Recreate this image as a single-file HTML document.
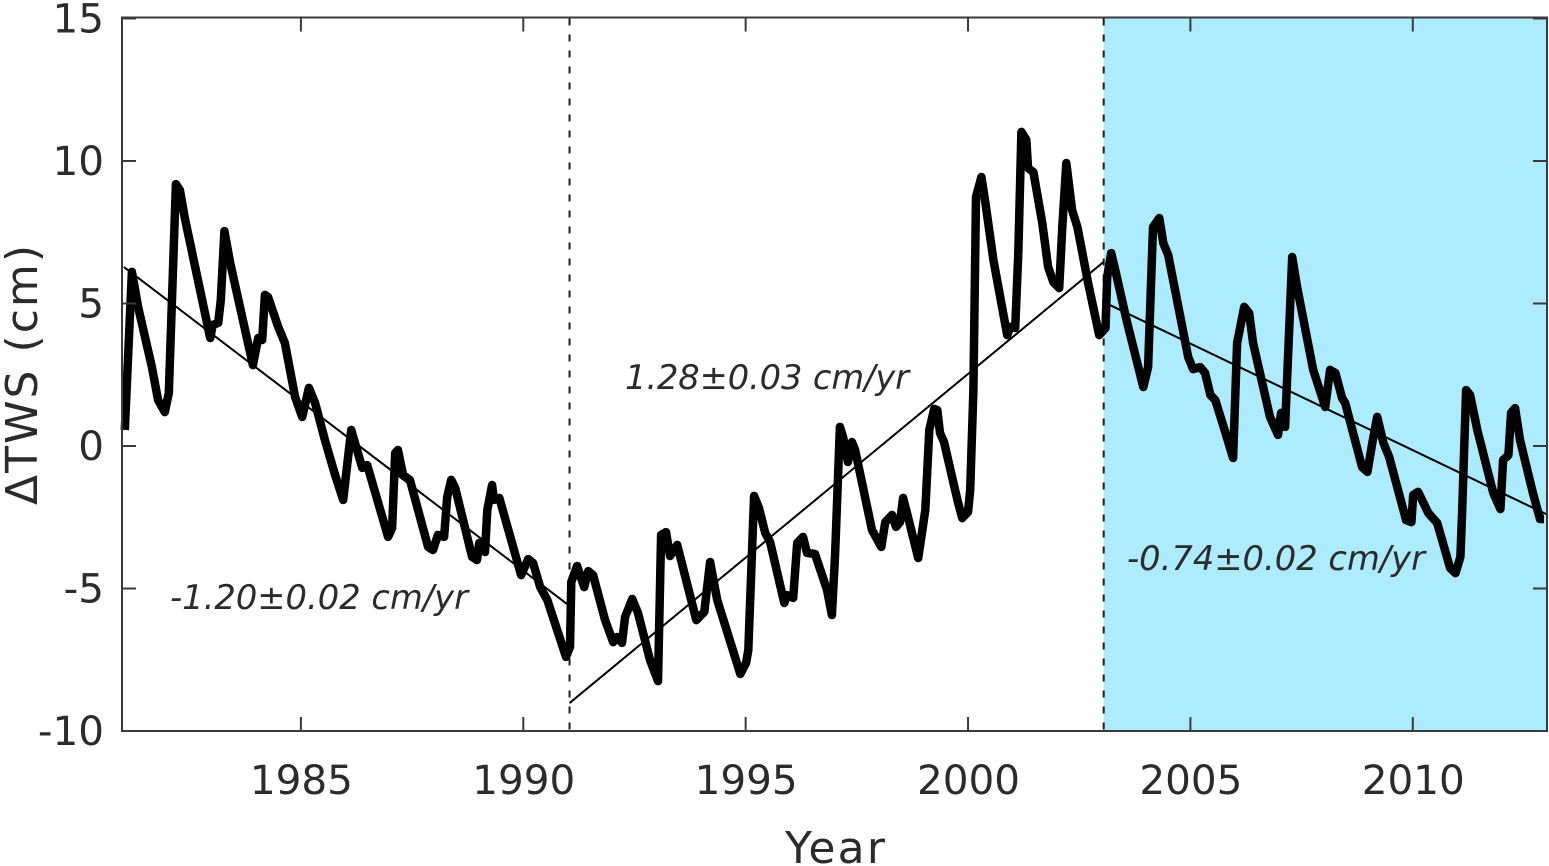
<!DOCTYPE html>
<html lang="en">
<head>
<meta charset="utf-8">
<title>TWS change chart</title>
<style>
html,body{margin:0;padding:0;background:#fff;width:1549px;height:866px;overflow:hidden}
svg{display:block}
text{font-family:"DejaVu Sans","Liberation Sans",sans-serif;fill:#2b2b2b}
</style>
</head>
<body>
<svg id="chart" xmlns="http://www.w3.org/2000/svg" width="1549" height="866" viewBox="0 0 1549 866">
  <rect x="0" y="0" width="1549" height="866" fill="#ffffff"/>
  <g id="shade-layer"></g>
  <g id="mark-layer"></g>
  <g id="axis-layer"></g>
  <text x="835" y="863" font-size="44" text-anchor="middle" textLength="100">Year</text>
  <text transform="translate(37,375) rotate(-90)" font-size="44" text-anchor="middle" textLength="260">ΔTWS (cm)</text>
  <text x="170" y="609" font-size="33.7" font-style="italic" textLength="298">-1.20±0.02 cm/yr</text>
  <text x="625" y="389" font-size="33.7" font-style="italic" textLength="284">1.28±0.03 cm/yr</text>
  <text x="1127" y="570" font-size="33.7" font-style="italic" textLength="298">-0.74±0.02 cm/yr</text>
</svg>
<script>
const years = [1981.04,1981.2,1981.34,1981.65,1981.79,1981.94,1982.03,1982.19,1982.28,1982.39,1982.96,1983.02,1983.14,1983.2,1983.28,1983.41,1983.92,1984.04,1984.13,1984.19,1984.26,1984.49,1984.64,1984.87,1985.03,1985.18,1985.32,1985.54,1985.77,1985.95,1986.13,1986.38,1986.49,1986.96,1987.05,1987.12,1987.18,1987.3,1987.45,1987.86,1987.97,1988.08,1988.22,1988.29,1988.38,1988.47,1988.85,1988.96,1989.01,1989.14,1989.19,1989.3,1989.34,1989.46,1989.95,1990.11,1990.22,1990.38,1990.54,1990.96,1991.05,1991.08,1991.21,1991.37,1991.46,1991.57,1991.84,1992.02,1992.11,1992.22,1992.29,1992.45,1992.58,1992.85,1993.03,1993.1,1993.21,1993.3,1993.46,1993.89,1994.07,1994.2,1994.36,1994.88,1995.01,1995.06,1995.19,1995.3,1995.44,1995.55,1995.87,1995.93,1996.07,1996.16,1996.29,1996.38,1996.56,1996.83,1996.94,1997.01,1997.12,1997.19,1997.3,1997.39,1997.46,1997.84,1998.05,1998.14,1998.29,1998.38,1998.47,1998.54,1998.65,1998.88,1999.04,1999.13,1999.24,1999.31,1999.37,1999.46,1999.76,1999.87,2000.0,2000.05,2000.12,2000.18,2000.3,2000.39,2000.57,2000.88,2000.95,2001.06,2001.13,2001.2,2001.31,2001.35,2001.47,2001.67,2001.8,2001.92,2002.05,2002.12,2002.21,2002.34,2002.46,2002.7,2002.95,2003.09,2003.13,2003.22,2003.31,2003.58,2003.94,2004.05,2004.16,2004.3,2004.39,2004.5,2004.95,2005.06,2005.22,2005.33,2005.45,2005.56,2005.72,2005.96,2006.05,2006.21,2006.32,2006.41,2006.79,2006.97,2007.04,2007.13,2007.29,2007.4,2007.76,2008.03,2008.14,2008.26,2008.41,2008.48,2008.86,2008.98,2009.09,2009.2,2009.34,2009.47,2009.85,2009.97,2010.01,2010.12,2010.35,2010.55,2010.84,2010.96,2011.07,2011.11,2011.2,2011.29,2011.45,2011.81,2011.97,2012.03,2012.15,2012.21,2012.3,2012.41,2012.7,2012.86,2012.95];
const tws = [0.56,6.11,4.88,2.77,1.61,1.19,1.86,9.19,8.98,8.0,3.79,4.25,4.32,5.12,7.54,6.42,2.84,3.79,3.72,5.3,5.23,4.18,3.61,1.72,1.02,2.04,1.51,0.21,-1.02,-1.89,0.56,-0.77,-0.67,-3.19,-2.88,-0.25,-0.14,-1.02,-1.19,-3.54,-3.65,-3.12,-3.19,-1.79,-1.19,-1.47,-3.89,-4.0,-3.4,-3.72,-2.25,-1.37,-1.89,-1.82,-4.53,-3.97,-4.11,-4.95,-5.4,-7.4,-7.05,-4.77,-4.21,-4.95,-4.39,-4.53,-6.11,-6.88,-6.7,-6.91,-6.0,-5.37,-5.86,-7.51,-8.25,-3.12,-3.02,-3.86,-3.47,-6.11,-5.82,-4.07,-5.4,-8.0,-7.61,-7.16,-1.75,-2.18,-3.05,-3.37,-5.51,-5.23,-5.33,-3.4,-3.19,-3.75,-3.79,-5.05,-5.93,-3.89,0.67,0.32,-0.56,0.14,-0.14,-2.95,-3.54,-2.67,-2.42,-2.84,-2.67,-1.82,-2.49,-3.93,-2.25,0.56,1.3,1.26,0.46,0.14,-1.89,-2.53,-2.32,-1.54,1.96,8.74,9.44,8.53,6.53,3.89,4.18,4.14,6.77,11.02,10.74,9.75,9.61,7.82,6.28,5.75,5.54,7.68,9.93,8.28,7.68,5.72,3.89,4.14,5.93,6.77,6.18,4.32,2.07,2.77,7.68,8.0,7.12,6.7,3.12,2.7,2.77,2.56,1.79,1.61,0.81,-0.42,3.61,4.88,4.67,3.61,1.02,0.39,1.16,0.67,6.63,5.58,2.67,1.37,2.67,2.56,1.68,1.51,-0.74,-0.91,0.11,1.02,0.11,-0.39,-2.6,-2.67,-1.72,-1.61,-2.35,-2.7,-4.28,-4.46,-3.89,-2.35,1.96,1.79,0.56,-1.65,-2.21,-0.49,-0.32,1.16,1.33,0.21,-1.65,-2.56,-2.56];
const trendStartYears = [1981.02,1991.04,2003.05];
const trendEndYears = [1991.03,2003.05,2013];
const trendStartValues = [6.28,-9.02,5.05];
const trendEndValues = [-5.6,6.46,-2.39];
const breakYears = [1991.04,2003.05];
const shadeYears = [2003.05,2013];
const xTicks = [1985,1990,1995,2000,2005,2010];
const yTicks = [15,10,5,0,-5,-10];
const xDomain = [1981,2013];
const yDomain = [-10,15];

const NS = 'http://www.w3.org/2000/svg';
const plot = {left:123, right:1546.2, top:18.5, bottom:731};
function xScale(v){return plot.left + (v - xDomain[0]) / (xDomain[1] - xDomain[0]) * (plot.right - plot.left);}
function yScale(v){return plot.bottom - (v - yDomain[0]) / (yDomain[1] - yDomain[0]) * (plot.bottom - plot.top);}
function make(tag, parent){const el = document.createElementNS(NS, tag); parent.appendChild(el); return el;}

const shadeLayer = document.getElementById('shade-layer');
const markLayer = document.getElementById('mark-layer');
const axisLayer = document.getElementById('axis-layer');

const shade = make('rect', shadeLayer);


shade.setAttribute('x', xScale(shadeYears[0]));
shade.setAttribute('y', plot.top);
shade.setAttribute('width', xScale(shadeYears[1]) - xScale(shadeYears[0]));
shade.setAttribute('height', plot.bottom - plot.top);
shade.setAttribute('fill', '#adebff');

breakYears.forEach(function(year){
  const el = make('line', markLayer);
  
  
  el.setAttribute('x1', xScale(year));
  el.setAttribute('x2', xScale(year));
  el.setAttribute('y1', plot.top);
  el.setAttribute('y2', plot.bottom);
  el.setAttribute('stroke', '#1a1a1a');
  el.setAttribute('stroke-width', '2');
  el.setAttribute('stroke-dasharray', '7 9');
});

trendStartYears.forEach(function(year, i){
  const el = make('line', markLayer);
  
  
  el.setAttribute('x1', xScale(year));
  el.setAttribute('y1', yScale(trendStartValues[i]));
  el.setAttribute('x2', xScale(trendEndYears[i]));
  el.setAttribute('y2', yScale(trendEndValues[i]));
  el.setAttribute('stroke', '#000');
  el.setAttribute('stroke-width', '2');
});

const series = make('polyline', markLayer);


series.setAttribute('points', years.map(function(y, i){return xScale(y).toFixed(1) + ',' + yScale(tws[i]).toFixed(1);}).join(' '));
series.setAttribute('fill', 'none');
series.setAttribute('stroke', '#000');
series.setAttribute('stroke-width', '8.5');
series.setAttribute('stroke-linejoin', 'round');

const frame = make('rect', axisLayer);


frame.setAttribute('x', 122);
frame.setAttribute('y', 17.5);
frame.setAttribute('width', 1425);
frame.setAttribute('height', 713.5);
frame.setAttribute('fill', 'none');
frame.setAttribute('stroke', '#3a3a3a');
frame.setAttribute('stroke-width', '2');

xTicks.forEach(function(t){
  [[plot.bottom, plot.bottom - 14], [plot.top - 1, plot.top + 13]].forEach(function(pair){
    const tick = make('line', axisLayer);
    
    
    tick.setAttribute('x1', xScale(t));
    tick.setAttribute('x2', xScale(t));
    tick.setAttribute('y1', pair[0]);
    tick.setAttribute('y2', pair[1]);
    tick.setAttribute('stroke', '#3a3a3a');
    tick.setAttribute('stroke-width', '2');
  });
  const label = make('text', axisLayer);
  
  
  label.setAttribute('x', xScale(t) + 0.5);
  label.setAttribute('y', 794);
  label.setAttribute('font-size', '40.5');
  label.setAttribute('text-anchor', 'middle');
  label.textContent = String(t);
});

yTicks.forEach(function(t){
  [[122, 136], [1547, 1533]].forEach(function(pair){
    const tick = make('line', axisLayer);
    
    
    tick.setAttribute('x1', pair[0]);
    tick.setAttribute('x2', pair[1]);
    tick.setAttribute('y1', yScale(t));
    tick.setAttribute('y2', yScale(t));
    tick.setAttribute('stroke', '#3a3a3a');
    tick.setAttribute('stroke-width', '2');
  });
  const label = make('text', axisLayer);
  
  
  label.setAttribute('x', 104);
  label.setAttribute('y', yScale(t) + 14);
  label.setAttribute('font-size', '40.5');
  label.setAttribute('text-anchor', 'end');
  label.textContent = String(t);
});
</script>
</body>
</html>
